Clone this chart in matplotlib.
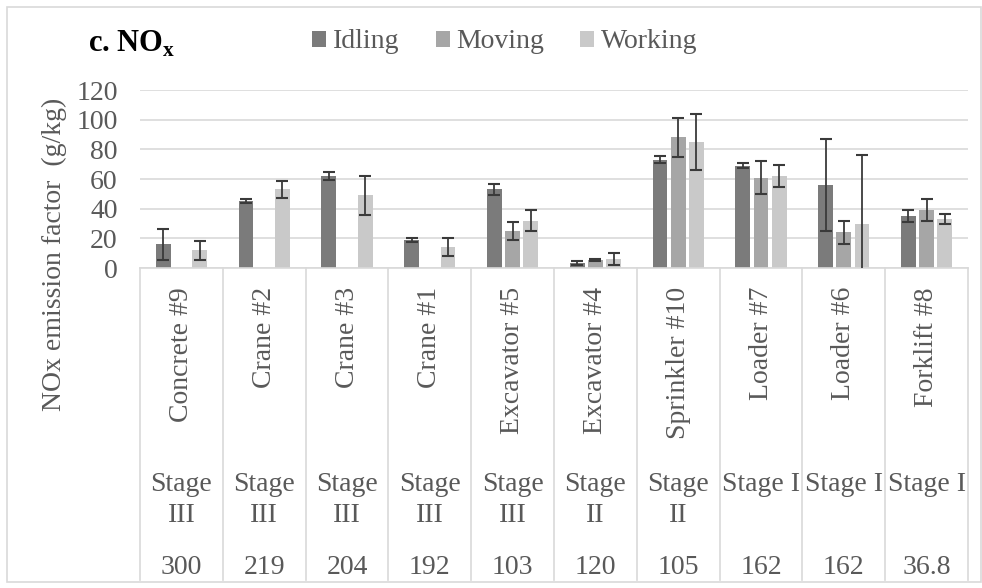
import numpy as np
import matplotlib.pyplot as plt
from matplotlib.patches import Rectangle

plt.rcParams['font.family'] = ['Liberation Serif', 'DejaVu Serif']
plt.rcParams['mathtext.fontset'] = 'custom'
plt.rcParams['mathtext.rm'] = 'Liberation Serif'
plt.rcParams['mathtext.bf'] = 'Liberation Serif:bold'

machines = ['Concrete #9', 'Crane #2', 'Crane #3', 'Crane #1', 'Excavator #5',
            'Excavator #4', 'Sprinkler #10', 'Loader #7', 'Loader #6', 'Forklift #8']
stages = ['Stage\nIII', 'Stage\nIII', 'Stage\nIII', 'Stage\nIII', 'Stage\nIII',
          'Stage\nII', 'Stage\nII', 'Stage I', 'Stage I', 'Stage I']
power = ['300', '219', '204', '192', '103', '120', '105', '162', '162', '36.8']

# NOx emission factors (g/kg) and standard deviations, nan = no data
idling = [16, 45, 62, 19, 53, 3.5, 73, 69, 56, 35]
idling_sd = [10.5, 1.5, 3, 1.5, 3.5, 1.3, 2.5, 1.5, 31, 3.8]
moving = [np.nan, np.nan, np.nan, np.nan, 25, 5.4, 88, 61, 24, 39]
moving_sd = [np.nan, np.nan, np.nan, np.nan, 6.2, 1, 13, 10.8, 7.5, 7.6]
working = [12, 53, 49, 14, 32, 6, 85, 62, 30, 33]
working_sd = [6.5, 5.5, 13, 6, 7.2, 3.8, 19, 7.5, 46, 3.5]

series = [('Idling', idling, idling_sd, '#7b7b7b'),
          ('Moving', moving, moving_sd, '#a6a6a6'),
          ('Working', working, working_sd, '#c9c9c9')]

W, H = 982, 588
fig = plt.figure(figsize=(W / 100, H / 100), dpi=100)
ax = fig.add_axes([140 / W, 1 - 268 / H, 828 / W, 178 / H])

x = np.arange(len(machines))
w = 0.18
for k, (name, vals, sd, col) in enumerate(series):
    ax.bar(x + (k - 1) * 0.22, vals, w, color=col, label=name, zorder=2)
    ax.errorbar(x + (k - 1) * 0.22, vals, yerr=sd, fmt='none', ecolor='#3a3a3a',
                elinewidth=1.3, capsize=4, capthick=1.5, zorder=3)

ax.set_xlim(-0.5, len(machines) - 0.5)
ax.set_ylim(0, 120)
ax.set_yticks(range(0, 121, 20))
ax.yaxis.grid(True, color='#d9d9d9', linewidth=1.2)
ax.set_axisbelow(True)
for s in ax.spines.values():
    s.set_visible(False)
ax.tick_params(axis='y', length=0, labelsize=20, labelcolor='#595959', pad=16)
ax.set_xticks([])
ax.set_ylabel('NOx emission factor  (g/kg)', fontsize=20, color='#595959')
ax.yaxis.set_label_coords(-0.088, 0.075)

# multi-level category axis below the plot
trans = ax.get_xaxis_transform()
ybot = -(580 - 268) / 178
for b in np.arange(len(machines) + 1) - 0.5:
    ax.plot([b, b], [0, ybot], transform=trans, color='#d9d9d9', lw=1.2, clip_on=False)
ax.plot([-0.5, len(machines) - 0.5], [0, 0], transform=trans, color='#d9d9d9', lw=1.2, clip_on=False)
for i in x:
    ax.text(i, -(287 - 268) / 178, machines[i], rotation=90, ha='center', va='top',
            fontsize=20, color='#595959', transform=trans)
    ax.text(i, -(472 - 268) / 178, stages[i], ha='center', va='top',
            fontsize=20, color='#595959', transform=trans, linespacing=1.3)
    ax.text(i, -(568 - 268) / 178, power[i], ha='center', va='center',
            fontsize=20, color='#595959', transform=trans)

fig.text(88 / W, 1 - 44 / H, r'c. NO$_\mathbf{x}$', fontsize=22, fontweight='bold',
         va='center', ha='left')
fig.legend(loc='center', bbox_to_anchor=(505 / W, 1 - 42 / H), ncol=3, frameon=False,
           fontsize=20, labelcolor='#595959', handlelength=0.5, handleheight=0.5,
           handletextpad=0.25, columnspacing=1.3)

fig.patches.append(Rectangle((7 / W, 1 - 582 / H), 974 / W, 575 / H, transform=fig.transFigure,
                             fill=False, edgecolor='#d9d9d9', lw=1.2))

plt.savefig('out.png', dpi=100)
